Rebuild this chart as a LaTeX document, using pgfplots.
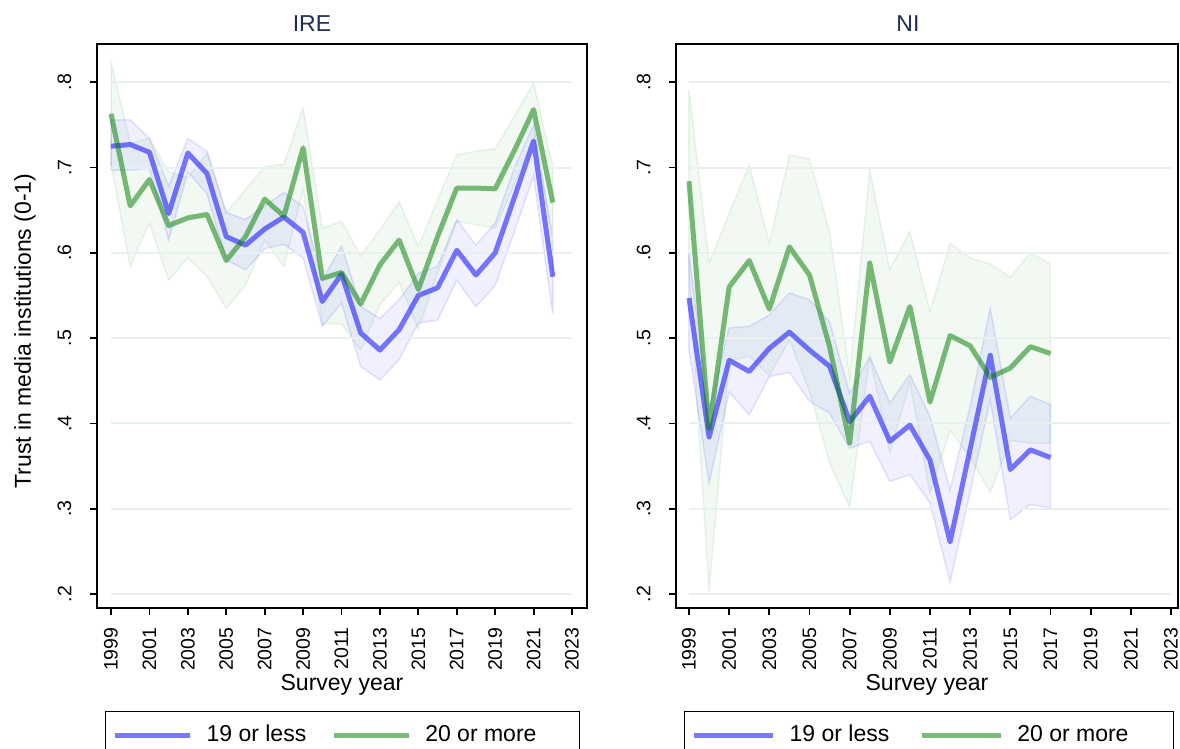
\documentclass[border=0pt]{standalone}
\usepackage{fontspec}
\setmainfont{Liberation Sans}
\usepackage{pgfplots}
\pgfplotsset{compat=1.18}
\usepackage{pgfplotstable}
\usepgfplotslibrary{fillbetween}

\definecolor{bl}{RGB}{0,0,255}
\definecolor{gr}{RGB}{0,125,0}
\definecolor{gridc}{RGB}{232,241,240}
\definecolor{titc}{RGB}{30,45,85}

\pgfplotstableread{
year b bl bu g gl gu
1999 .725 .697 .756 .763 .705 .824
2000 .727 .697 .756 .655 .584 .729
2001 .718 .699 .734 .686 .635 .734
2002 .646 .615 .678 .632 .568 .695
2003 .717 .695 .734 .641 .594 .688
2004 .693 .669 .719 .645 .572 .717
2005 .619 .592 .647 .591 .535 .647
2006 .609 .580 .639 .619 .562 .674
2007 .628 .605 .655 .663 .615 .701
2008 .642 .610 .671 .643 .584 .704
2009 .624 .594 .654 .723 .674 .770
2010 .543 .514 .568 .570 .516 .629
2011 .575 .541 .608 .577 .517 .637
2012 .506 .467 .537 .540 .486 .596
2013 .486 .451 .523 .586 .539 .627
2014 .510 .475 .545 .615 .566 .660
2015 .550 .518 .576 .557 .510 .607
2016 .559 .521 .584 .619 .576 .662
2017 .603 .568 .639 .676 .637 .715
2018 .574 .537 .609 .676 .633 .719
2019 .600 .562 .635 .675 .629 .722
2020 .665 .625 .700 .720 .680 .760
2021 .731 .690 .750 .768 .736 .799
2022 .572 .529 .615 .659 .620 .701
}\tabIRE

\pgfplotstableread{
year b bl bu g gl gu
1999 .547 .486 .600 .684 .576 .791
2000 .384 .330 .415 .394 .203 .588
2001 .474 .437 .512 .560 .473 .646
2002 .461 .410 .514 .591 .479 .703
2003 .488 .455 .527 .534 .456 .611
2004 .507 .460 .553 .607 .498 .715
2005 .486 .426 .545 .574 .438 .710
2006 .467 .412 .519 .490 .354 .625
2007 .402 .371 .435 .377 .302 .455
2008 .432 .379 .478 .588 .478 .697
2009 .379 .332 .424 .472 .365 .580
2010 .398 .340 .457 .537 .449 .625
2011 .357 .307 .408 .425 .318 .531
2012 .261 .214 .322 .503 .392 .611
2013 .370 .320 .420 .491 .360 .594
2014 .480 .428 .535 .454 .319 .587
2015 .346 .287 .406 .465 .380 .571
2016 .369 .305 .432 .490 .377 .600
2017 .360 .301 .422 .482 .377 .587
}\tabNI

\pgfplotsset{
  panel/.style={
    scale only axis, height=282pt,
    ymin=0.1836, ymax=0.8449,
    ytick={0.2,0.3,0.4,0.5,0.6,0.7,0.8},
    yticklabels={.2,.3,.4,.5,.6,.7,.8},
    xtick={1999,2001,2003,2005,2007,2009,2011,2013,2015,2017,2019,2021,2023},
    xticklabels={1999,2001,2003,2005,2007,2009,2011,2013,2015,2017,2019,2021,2023},
    tick align=outside, xtick pos=bottom, ytick pos=left,
    major tick length=3.5pt,
    minor tick num=0,
    tick style={black, line width=0.9pt},
    axis line style={black, line width=0.9pt},
    every tick label/.append style={font=\fontsize{9.75}{11}\selectfont, black},
    /pgf/number format/assume math mode=true,
    xticklabel style={rotate=90, anchor=east},
    yticklabel style={rotate=90, anchor=south},
    xticklabel shift=2.75pt, yticklabel shift=5.75pt,
    xlabel={Survey year},
    xlabel style={at={(axis description cs:0.5,-0.136)}, anchor=center, font=\fontsize{11.5}{13}\selectfont},
    title style={anchor=center, font=\fontsize{11.5}{13}\selectfont, text=titc},
    legend columns=2,
    no markers,
  },
  leg/.style n args={4}{legend style={at={(axis description cs:#1,-0.1826)}, anchor=north west,
    draw=black, line width=0.6pt, inner xsep=3.5pt, inner ysep=4pt,
    font=\fontsize{11.5}{13}\selectfont,
    nodes={inner xsep=0pt, inner ysep=2.85pt},
    /tikz/every odd column/.append style={column sep=#2},
    /tikz/every even column/.append style={column sep=#3}},
    legend image code/.code={\draw[##1] (0pt,0pt) -- (#4,0pt);}},
  gridl/.style={gridc, line width=1pt, forget plot},
  bandb/.style={fill=bl, fill opacity=0.06, draw=bl, draw opacity=0.1, line width=0.75pt, forget plot},
  bandg/.style={fill=gr, fill opacity=0.05, draw=gr, draw opacity=0.08, line width=0.75pt, forget plot},
  lineb/.style={bl, draw opacity=0.52, line width=2.5pt, line join=round},
  lineg/.style={gr, draw opacity=0.52, line width=2.5pt, line join=round},
}

\begin{document}
\begin{tikzpicture}

\begin{axis}[panel, leg={0.0163}{7pt}{12.5pt}{37.5pt},
  at={(48.5pt,70.5pt)}, anchor=south west, width=245pt,
  xmin=1998.271, xmax=2023.78,
  title={IRE}, title style={at={(axis description cs:0.4388,1.0142)}},
  ylabel={Trust in media institutions (0-1)},
  ylabel style={at={(axis description cs:-0.147,0.491)}, anchor=center, font=\fontsize{11.5}{13}\selectfont},
]
\addplot[gridl] coordinates {(1999,0.2)(2023,0.2)};
\addplot[gridl] coordinates {(1999,0.3)(2023,0.3)};
\addplot[gridl] coordinates {(1999,0.4)(2023,0.4)};
\addplot[gridl] coordinates {(1999,0.5)(2023,0.5)};
\addplot[gridl] coordinates {(1999,0.6)(2023,0.6)};
\addplot[gridl] coordinates {(1999,0.7)(2023,0.7)};
\addplot[gridl] coordinates {(1999,0.8)(2023,0.8)};
\addplot[draw=none, forget plot, name path=IBU] table[x=year,y=bu] \tabIRE;
\addplot[draw=none, forget plot, name path=IBL] table[x=year,y=bl] \tabIRE;
\addplot[draw=none, forget plot, name path=IGU] table[x=year,y=gu] \tabIRE;
\addplot[draw=none, forget plot, name path=IGL] table[x=year,y=gl] \tabIRE;
\addplot[bandg] fill between[of=IGU and IGL];
\addplot[bandb] fill between[of=IBU and IBL];
\addplot[lineb] table[x=year,y=b] \tabIRE;
\addlegendentry{19 or less}
\addplot[lineg] table[x=year,y=g] \tabIRE;
\addlegendentry{20 or more\hspace*{18pt}}
\end{axis}

\begin{axis}[panel, leg={0.016}{7pt}{15pt}{39.5pt},
  at={(338pt,70.5pt)}, anchor=south west, width=251pt,
  xmin=1998.353, xmax=2023.35,
  title={NI}, title style={at={(axis description cs:0.462,1.0142)}},
]
\addplot[gridl] coordinates {(1999,0.2)(2023,0.2)};
\addplot[gridl] coordinates {(1999,0.3)(2023,0.3)};
\addplot[gridl] coordinates {(1999,0.4)(2023,0.4)};
\addplot[gridl] coordinates {(1999,0.5)(2023,0.5)};
\addplot[gridl] coordinates {(1999,0.6)(2023,0.6)};
\addplot[gridl] coordinates {(1999,0.7)(2023,0.7)};
\addplot[gridl] coordinates {(1999,0.8)(2023,0.8)};
\addplot[draw=none, forget plot, name path=NBU] table[x=year,y=bu] \tabNI;
\addplot[draw=none, forget plot, name path=NBL] table[x=year,y=bl] \tabNI;
\addplot[draw=none, forget plot, name path=NGU] table[x=year,y=gu] \tabNI;
\addplot[draw=none, forget plot, name path=NGL] table[x=year,y=gl] \tabNI;
\addplot[bandg] fill between[of=NGU and NGL];
\addplot[bandb] fill between[of=NBU and NBL];
\addplot[lineb] table[x=year,y=b] \tabNI;
\addlegendentry{19 or less}
\addplot[lineg] table[x=year,y=g] \tabNI;
\addlegendentry{20 or more\hspace*{19pt}}
\end{axis}
\pgfresetboundingbox
\path (0,0) rectangle (590pt,374.5pt);
\end{tikzpicture}
\end{document}
